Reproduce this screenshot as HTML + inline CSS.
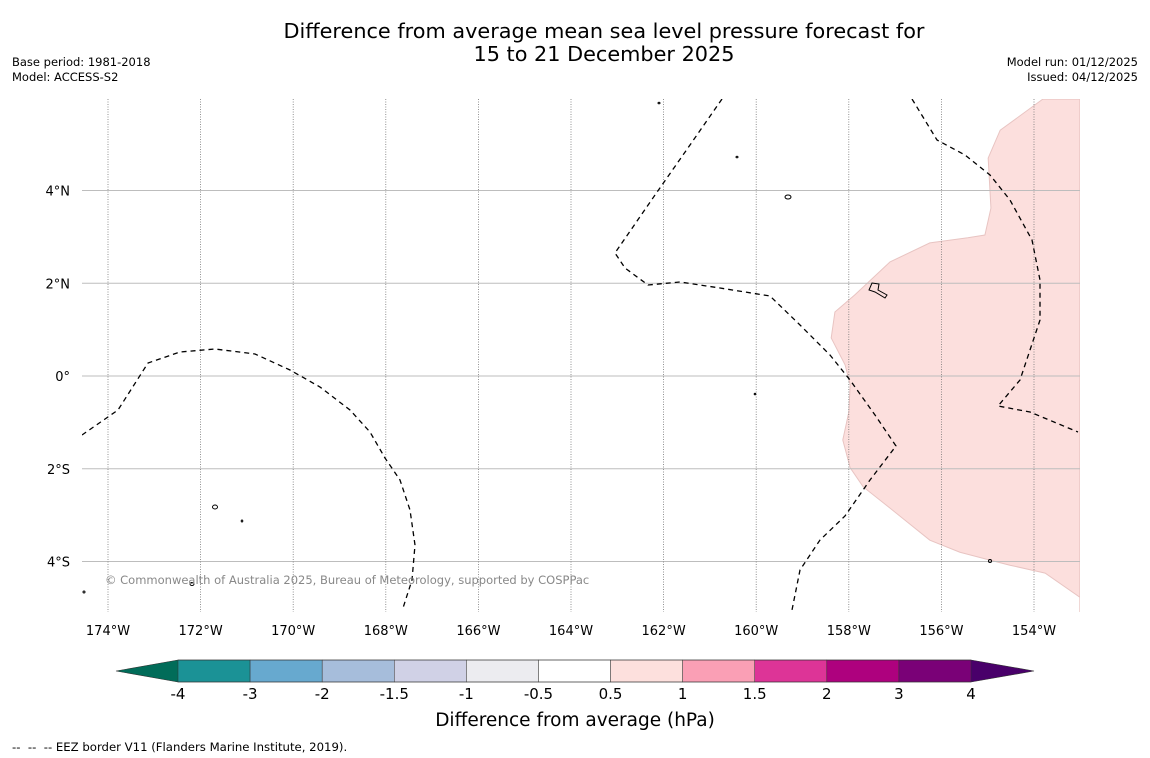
<!DOCTYPE html>
<html><head><meta charset="utf-8"><style>
body{margin:0;background:#fff;font-family:"DejaVu Sans","Liberation Sans",sans-serif;}
svg{display:block}
</style></head><body>
<svg id="chart" width="1150" height="758" xmlns="http://www.w3.org/2000/svg" font-family="DejaVu Sans, Liberation Sans, sans-serif">
<rect width="1150" height="758" fill="#fff"/>
<text x="604" y="38" text-anchor="middle" font-size="20.8" fill="#000">Difference from average mean sea level pressure forecast for</text>
<text x="604" y="61" text-anchor="middle" font-size="20.8" fill="#000">15 to 21 December 2025</text>
<text x="12" y="66" font-size="11.5">Base period: 1981-2018</text>
<text x="12" y="81" font-size="11.5">Model: ACCESS-S2</text>
<text x="1138" y="66" font-size="11.5" text-anchor="end">Model run: 01/12/2025</text>
<text x="1138" y="81" font-size="11.5" text-anchor="end">Issued: 04/12/2025</text>
<g id="map"></g>
<g id="cbar"></g>
<text x="575" y="726" text-anchor="middle" font-size="18.5">Difference from average (hPa)</text>
<text x="12" y="751" font-size="11.7" xml:space="preserve">--  --  -- EEZ border V11 (Flanders Marine Institute, 2019).</text>
</svg>
<script>
const lonTicks=[-174,-172,-170,-168,-166,-164,-162,-160,-158,-156,-154];
const latTicks=[4,2,0,-2,-4];
const latLabels=["4°N","2°N","0°","2°S","4°S"];
const anomLon=[-153.81,-154.73,-154.99,-154.93,-155.06,-155.43,-156.25,-157.11,-157.87,-158.30,-158.38,-158.08,-157.97,-158.00,-158.13,-157.97,-157.69,-157.11,-156.25,-155.60,-154.95,-154.52,-153.76,-153.01,-153.01,-153.01];
const anomLat=[5.97,5.30,4.70,3.62,3.04,2.98,2.87,2.46,1.75,1.38,0.82,0.24,-0.19,-0.78,-1.38,-1.98,-2.39,-2.85,-3.54,-3.80,-3.97,-4.08,-4.25,-4.77,-5.09,5.97];
const cbBounds=["-4","-3","-2","-1.5","-1","-0.5","0.5","1","1.5","2","3","4"];
const cbColors=["#1b9296","#67a9cf","#a6bddb","#d0d1e6","#ececf0","#ffffff","#fde0dd","#fa9fb5","#dd3497","#ae017e","#7a0177"];
const NS="http://www.w3.org/2000/svg";
const X0=82,X1=1080,Y0=99,Y1=612;
const xs=lon=>108+(lon+174)*46.3;
const ys=lat=>376-lat*46.375;
function mk(tag,attrs,parent){const e=document.createElementNS(NS,tag);for(const k in attrs)e.setAttribute(k,attrs[k]);parent.appendChild(e);return e;}
const map=document.getElementById('map');
const clip=mk('clipPath',{id:'mc'},map);mk('rect',{x:X0,y:Y0,width:X1-X0,height:Y1-Y0},clip);
const g=mk('g',{'clip-path':'url(#mc)'},map);
const poly=mk('polygon',{points:anomLon.map((l,i)=>xs(l)+','+ys(anomLat[i])).join(' '),fill:'#fcdfdd',stroke:'#e8c4c2','stroke-width':1},g);


latTicks.forEach((t,i)=>{
  const l=mk('line',{x1:X0,x2:X1,y1:ys(t),y2:ys(t),stroke:'#bdbdbd','stroke-width':1},g);
  
  
  const tx=mk('text',{x:70,y:ys(t)+5,'text-anchor':'end','font-size':13},map);tx.textContent=latLabels[i];
  
  
});
lonTicks.forEach(t=>{
  const l=mk('line',{x1:xs(t),x2:xs(t),y1:Y0,y2:Y1,stroke:'#777','stroke-width':0.8,'stroke-dasharray':'1,1.5'},g);
  
  
  const tx=mk('text',{x:xs(t),y:635,'text-anchor':'middle','font-size':13},map);tx.textContent=Math.abs(t)+'°W';
  
  
});
const eez=["M82,435 L118,410 L148,363 L180,352 L215,349 L255,354 L290,370 L320,387 L350,410 L370,432 L385,458 L400,480 L410,510 L415,545 L412,580 L403,608",
"M722,99 L690,145 L655,195 L615,253 L625,268 L648,285 L680,282 L720,288 L770,296 L800,325 L830,355 L850,380 L875,415 L896,446 L870,480 L845,516 L820,540 L800,570 L792,610",
"M912,99 L937,140 L965,155 L990,175 L1010,200 L1032,240 L1040,280 L1040,320 L1030,350 L1020,380 L998,406 L1030,412 L1078,432"];
eez.forEach(d=>{const p=mk('path',{d:d,fill:'none',stroke:'#000','stroke-width':1.3,'stroke-dasharray':'5,4'},g);
  
  });
[[659,103,1,0.8],[737,157,1,0.8],[788,197,3,2],[755,394,0.8,0.8],[215,507,2.5,2],[242,521,0.8,1],[192,584,2,1.5],[84,592,1,1],[990,561,1.5,1.5]].forEach(a=>{
  const e=mk('ellipse',{cx:a[0],cy:a[1],rx:a[2],ry:a[3],fill:'none',stroke:'#000','stroke-width':1},g);
  
  });
const isl=mk('path',{d:'M872,283 L879,284 L878,290 L887,295 L885,298 L875,292 L869,290 Z',fill:'none',stroke:'#000','stroke-width':1},g);


const cr=mk('text',{x:105,y:584,'font-size':11.5,fill:'#888'},map);cr.textContent='© Commonwealth of Australia 2025, Bureau of Meteorology, supported by COSPPac';


const cb=document.getElementById('cbar');
const CB0=178,CB1=971,CT=660,CBt=682,bw=(CB1-CB0)/cbColors.length;
const lt=mk('polygon',{points:`116,671 ${CB0},${CT} ${CB0},${CBt}`,fill:'#016c59'},cb);


const rt=mk('polygon',{points:`1034,671 ${CB1},${CT} ${CB1},${CBt}`,fill:'#49006a'},cb);


cbColors.forEach((c,i)=>{const r=mk('rect',{x:CB0+i*bw,y:CT,width:bw,height:CBt-CT,fill:c,stroke:'#333','stroke-width':0.5},cb);
  
  });
mk('polygon',{points:`116,671 ${CB0},${CT} ${CB1},${CT} 1034,671 ${CB1},${CBt} ${CB0},${CBt}`,fill:'none',stroke:'#333','stroke-width':0.6},cb);
cbBounds.forEach((b,i)=>{const t=mk('text',{x:CB0+i*bw,y:699,'text-anchor':'middle','font-size':15},cb);t.textContent=b;
  
  });
</script>
</body></html>
